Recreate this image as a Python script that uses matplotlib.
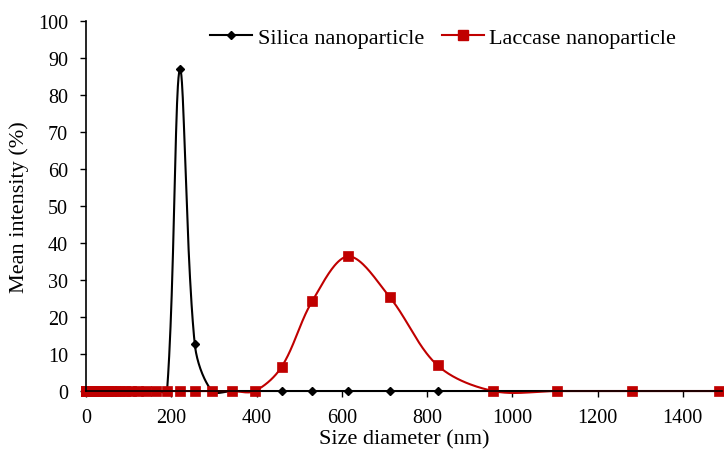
import numpy as np
import matplotlib
matplotlib.use("Agg")
import matplotlib.pyplot as plt

# DLS size bins (nm) and intensity distributions (%)
size_nm = [0.4, 0.4632, 0.5365, 0.6213, 0.7195, 0.8332, 0.9649, 1.117, 1.294, 1.499,
           1.736, 2.01, 2.328, 2.696, 3.122, 3.615, 4.187, 4.849, 5.615, 6.503,
           7.531, 8.721, 10.1, 11.7, 13.54, 15.69, 18.17, 21.04, 24.36, 28.21,
           32.67, 37.84, 43.82, 50.75, 58.77, 68.06, 78.82, 91.28, 105.7, 122.4,
           141.8, 164.2, 190.1, 220.2, 255.0, 295.3, 342.0, 396.1, 458.7, 531.2,
           615.1, 712.4, 825.0, 955.4, 1106, 1281, 1484]

silica = [0.0] * 43 + [87.0, 12.8] + [0.0] * 12
laccase = [0.0] * 48 + [6.5, 24.4, 36.4, 25.4, 6.9] + [0.0] * 4

RED = "#C00000"


def smooth_line(ax, x, y, n=40):
    """Excel-like smoothed line: Bezier with chord-length scaled tangents, done in pixel space."""
    p = ax.transData.transform(np.column_stack([x, y]).astype(float))
    d = np.hypot(*np.diff(p, axis=0).T)
    out = [p[0]]
    t = np.linspace(0, 1, n)[1:, None]
    for i in range(len(p) - 1):
        p1, p2 = p[i], p[i + 1]
        if i > 0:
            w = d[i] / (d[i - 1] + d[i]) if d[i - 1] + d[i] > 0 else 0.5
            b1 = p1 + (p2 - p[i - 1]) * w / 3.0
        else:
            b1 = p1
        if i + 2 < len(p):
            w = d[i] / (d[i] + d[i + 1]) if d[i] + d[i + 1] > 0 else 0.5
            b2 = p2 - (p[i + 2] - p1) * w / 3.0
        else:
            b2 = p2
        seg = ((1 - t) ** 3) * p1 + 3 * ((1 - t) ** 2) * t * b1 + 3 * (1 - t) * t ** 2 * b2 + t ** 3 * p2
        out.extend(seg)
    out = ax.transData.inverted().transform(np.array(out))
    return out[:, 0], out[:, 1]


plt.rcParams["font.family"] = ["Liberation Serif", "DejaVu Serif"]
plt.rcParams["font.size"] = 14.5

fig = plt.figure(figsize=(7.24, 4.52), dpi=100)
ax = fig.add_axes([0.1188, 0.1327, 0.9972 - 0.1188, 0.951 - 0.1327])
ax.set_xlim(0, 1492)
ax.set_ylim(0, 100)

sx, sy = smooth_line(ax, size_nm, silica)
ax.plot(sx, sy, color="black", lw=1.5, solid_capstyle="round")
ax.plot(size_nm, silica, ls="none", marker="D", ms=4.3, color="black")

lx, ly = smooth_line(ax, size_nm, laccase)
ax.plot(lx, ly, color=RED, lw=1.5, solid_capstyle="round")
ax.plot(size_nm, laccase, ls="none", marker="s", ms=6.8, color=RED, mec=RED, mew=0.5)

# legend proxies
h1, = ax.plot([], [], color="black", lw=1.5, marker="D", ms=4.3, label="Silica nanoparticle")
h2, = ax.plot([], [], color=RED, lw=1.5, marker="s", ms=6.8, label="Laccase nanoparticle")
ax.legend(handles=[h1, h2], loc="center", bbox_to_anchor=(0.612, 0.914),
          bbox_transform=fig.transFigure, ncol=2, frameon=False, fontsize=16,
          handlelength=1.9, handletextpad=0.25, columnspacing=0.8, borderpad=0)

ax.set_xticks(np.arange(0, 1401, 200))
ax.set_yticks(np.arange(0, 101, 10))
ax.spines["top"].set_visible(False)
ax.spines["right"].set_visible(False)
for s in ("left", "bottom"):
    ax.spines[s].set_linewidth(1.2)
ax.tick_params(direction="out", length=4, width=1.0, labelsize=14.5)
ax.tick_params(axis="y", pad=9)
ax.tick_params(axis="x", pad=8)

ax.set_xlabel("Size diameter (nm)", fontsize=16, labelpad=2)
ax.set_ylabel("Mean intensity (%)", fontsize=16, labelpad=6)
for line in ax.lines:
    line.set_clip_on(False)

fig.savefig("out.png", dpi=100)
